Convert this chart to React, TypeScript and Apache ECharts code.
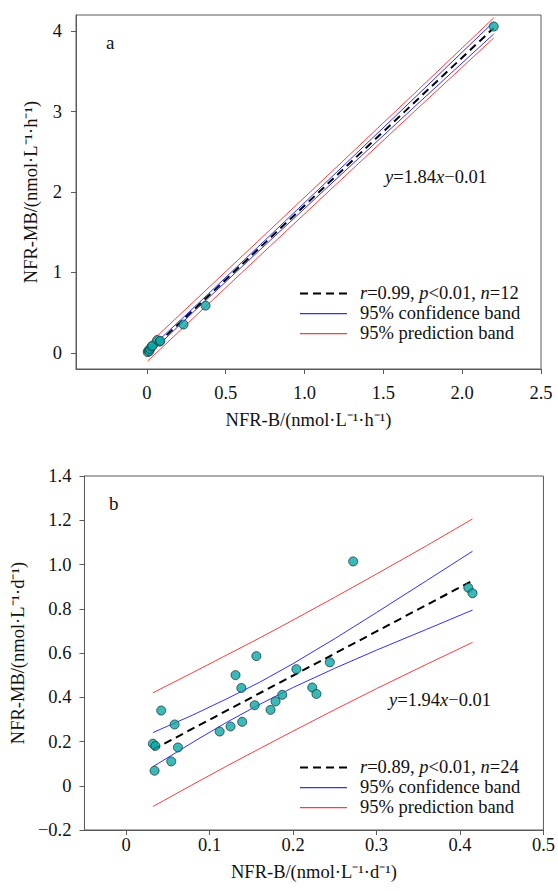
import React, { useEffect, useRef } from "react";
import * as echarts from "echarts";

// Panel a data (NFR-B vs NFR-MB, per hour)
const aX = [0.005, 0.01, 0.015, 0.02, 0.03, 0.035, 0.065, 0.08, 0.085, 0.232, 0.372, 2.2];
const aY = [0.01, 0.03, 0.02, 0.05, 0.08, 0.09, 0.16, 0.14, 0.15, 0.353, 0.588, 4.057];
const aFitX = [0.005, 2.2];
const aFitY = [0.0, 4.039];
const aBandX = [0.005, 0.3, 0.7, 1.2, 1.7, 2.2];
const aConfUp = [0.03, 0.568, 1.309, 2.239, 3.174, 4.114];
const aConfLo = [-0.03, 0.518, 1.249, 2.159, 3.064, 3.964];
const aPredUp = [0.1, 0.643, 1.38, 2.304, 3.231, 4.164];
const aPredLo = [-0.1, 0.443, 1.178, 2.094, 3.007, 3.914];
const aXTicks = [0, 0.5, 1.0, 1.5, 2.0, 2.5];
const aYTicks = [0, 1, 2, 3, 4];

// Panel b data (per day)
const bX = [0.032, 0.035, 0.034, 0.042, 0.058, 0.062, 0.054, 0.112, 0.125, 0.139, 0.131, 0.138,
  0.154, 0.156, 0.272, 0.204, 0.244, 0.223, 0.228, 0.187, 0.179, 0.173, 0.41, 0.415];
const bY = [0.19, 0.18, 0.068, 0.34, 0.277, 0.173, 0.11, 0.245, 0.268, 0.289, 0.5, 0.442,
  0.364, 0.586, 1.014, 0.527, 0.558, 0.444, 0.415, 0.411, 0.381, 0.343, 0.895, 0.87];
const bFitX = [0.032, 0.415];
const bFitY = [0.163, 0.927];
const bBandX = [0.032, 0.08, 0.12, 0.16, 0.2, 0.25, 0.3, 0.36, 0.415];
const bConfUp = [0.24, 0.32, 0.392, 0.468, 0.552, 0.665, 0.783, 0.927, 1.06];
const bConfLo = [0.086, 0.197, 0.286, 0.368, 0.444, 0.531, 0.613, 0.707, 0.794];
const bPredUp = [0.42, 0.512, 0.59, 0.668, 0.749, 0.852, 0.957, 1.085, 1.206];
const bPredLo = [-0.094, 0.006, 0.088, 0.168, 0.247, 0.344, 0.439, 0.549, 0.648];
const bXTicks = [0, 0.1, 0.2, 0.3, 0.4, 0.5];

const zip = (xs: number[], ys: number[]) => xs.map((x, i) => [x, ys[i]]);

const FONT = "'Liberation Serif', 'Times New Roman', serif";
const FS = 18.5;
const AXIS_COLOR = "#5a5a5a";
const TEXT_COLOR = "#111";
const RED = "#ff3b3b";
const BLUE = "#3030ff";

const fmt1 = (v: number) => {
  if (Math.abs(v) < 1e-9) return "0";
  if (v < 0) return "\u2212" + Math.abs(v).toFixed(1);
  return v.toFixed(1);
};

export default function App() {
  const ref = useRef<HTMLDivElement>(null);
  useEffect(() => {
    if (!ref.current) return;
    const chart = echarts.init(ref.current, undefined, { renderer: "svg" });

    const labelStyle = { fontSize: FS, color: TEXT_COLOR, fontFamily: FONT };
    const axisBase = {
      type: "value" as const,
      splitLine: { show: false },
      axisLine: { show: true, onZero: false, lineStyle: { color: AXIS_COLOR, width: 1 } },
      nameLocation: "middle" as const,
      nameTextStyle: { fontSize: FS, color: TEXT_COLOR, fontFamily: FONT },
    };

    const lineSeries = (name: string, data: number[][], color: string, idx: number, dashed = false) => ({
      name,
      type: "line",
      xAxisIndex: idx,
      yAxisIndex: idx,
      data,
      showSymbol: false,
      symbol: "none",
      smooth: false,
      lineStyle: dashed
        ? { color: "#000", width: 2, type: [8, 5] }
        : { color, width: 1 },
      z: dashed ? 4 : 3,
      silent: true,
    });

    const scatterSeries = (data: number[][], idx: number) => ({
      type: "scatter",
      xAxisIndex: idx,
      yAxisIndex: idx,
      data,
      symbol: "circle",
      symbolSize: 9,
      itemStyle: { color: "#0aa8a8", borderColor: "#1c3838", borderWidth: 1 },
      z: 6,
    });

    const rich = { i: { fontStyle: "italic", fontSize: FS, fontFamily: FONT, fill: TEXT_COLOR, color: TEXT_COLOR } };
    const legendRows = (x0: number, y0: number, txt: string) => {
      const rows: any[] = [];
      const solid = (y: number, fill: string) => ({
        type: "rect",
        shape: { x: x0, y: y, width: 47, height: 1.2 },
        style: { fill },
        z: 10,
      });
      const label = (y: number, t: string) => ({
        type: "text",
        x: x0 + 60,
        y,
        style: { text: t, rich, font: `${FS}px ${FONT}`, fill: TEXT_COLOR, verticalAlign: "middle", align: "left" },
        z: 10,
      });
      rows.push({
        type: "line",
        shape: { x1: x0, y1: y0 + 0.5, x2: x0 + 47, y2: y0 + 0.5 },
        style: { stroke: "#000", lineWidth: 2, lineDash: [8, 5] },
        z: 10,
      });
      rows.push(label(y0, txt));
      rows.push(solid(y0 + 20, BLUE));
      rows.push(label(y0 + 20, "95% confidence band"));
      rows.push(solid(y0 + 40, RED));
      rows.push(label(y0 + 40, "95% prediction band"));
      return rows;
    };

    chart.setOption({
      animation: false,
      backgroundColor: "#fff",
      grid: [
        { left: 76, top: 15, width: 465, height: 354, show: true, borderColor: AXIS_COLOR, borderWidth: 1, containLabel: false },
        { left: 81, top: 476, width: 465, height: 354, show: true, borderColor: AXIS_COLOR, borderWidth: 1, containLabel: false },
      ],
      xAxis: [
        {
          ...axisBase,
          gridIndex: 0,
          min: -0.45,
          max: 2.5,
          name: "NFR-B/(nmol·L\u207B\u00B9·h\u207B\u00B9)",
          nameGap: 41,
          axisTick: { show: true, inside: false, length: 5, customValues: aXTicks, lineStyle: { color: AXIS_COLOR } },
          axisLabel: { ...labelStyle, customValues: aXTicks, margin: 14, formatter: (v: number) => fmt1(v) },
        },
        {
          ...axisBase,
          gridIndex: 1,
          min: -0.05,
          max: 0.5,
          name: "NFR-B/(nmol·L\u207B\u00B9·d\u207B\u00B9)",
          nameGap: 32,
          axisTick: { show: true, inside: false, length: 5, customValues: bXTicks, lineStyle: { color: AXIS_COLOR } },
          axisLabel: { ...labelStyle, customValues: bXTicks, margin: 5, formatter: (v: number) => fmt1(v) },
        },
      ],
      yAxis: [
        {
          ...axisBase,
          gridIndex: 0,
          min: -0.2,
          max: 4.2,
          name: "NFR-MB/(nmol·L\u207B\u00B9·h\u207B\u00B9)",
          nameGap: 36,
          axisTick: { show: true, inside: false, length: 5, customValues: aYTicks, lineStyle: { color: AXIS_COLOR } },
          axisLabel: { ...labelStyle, customValues: aYTicks, margin: 14, formatter: (v: number) => String(Math.round(v)) },
        },
        {
          ...axisBase,
          gridIndex: 1,
          min: -0.2,
          max: 1.4,
          interval: 0.2,
          name: "NFR-MB/(nmol·L\u207B\u00B9·d\u207B\u00B9)",
          nameGap: 50,
          axisTick: { show: true, inside: false, length: 5, lineStyle: { color: AXIS_COLOR } },
          axisLabel: { ...labelStyle, margin: 13, formatter: (v: number) => fmt1(v) },
        },
      ],
      series: [
        lineSeries("a prediction upper", zip(aBandX, aPredUp), RED, 0),
        lineSeries("a prediction lower", zip(aBandX, aPredLo), RED, 0),
        lineSeries("a confidence upper", zip(aBandX, aConfUp), BLUE, 0),
        lineSeries("a confidence lower", zip(aBandX, aConfLo), BLUE, 0),
        lineSeries("a fit", zip(aFitX, aFitY), "#000", 0, true),
        scatterSeries(zip(aX, aY), 0),
        lineSeries("b prediction upper", zip(bBandX, bPredUp), RED, 1),
        lineSeries("b prediction lower", zip(bBandX, bPredLo), RED, 1),
        lineSeries("b confidence upper", zip(bBandX, bConfUp), BLUE, 1),
        lineSeries("b confidence lower", zip(bBandX, bConfLo), BLUE, 1),
        lineSeries("b fit", zip(bFitX, bFitY), "#000", 1, true),
        scatterSeries(zip(bX, bY), 1),
      ],
      graphic: [
        { type: "text", x: 106, y: 42, style: { text: "a", font: `19px ${FONT}`, fill: TEXT_COLOR, verticalAlign: "middle" } },
        { type: "text", x: 109, y: 503, style: { text: "b", font: `19px ${FONT}`, fill: TEXT_COLOR, verticalAlign: "middle" } },
        {
          type: "text", x: 385, y: 177,
          style: { text: "{i|y}=1.84{i|x}\u22120.01", rich, font: `${FS}px ${FONT}`, fill: TEXT_COLOR, verticalAlign: "middle" },
        },
        {
          type: "text", x: 389, y: 700,
          style: { text: "{i|y}=1.94{i|x}\u22120.01", rich, font: `${FS}px ${FONT}`, fill: TEXT_COLOR, verticalAlign: "middle" },
        },
        ...legendRows(300, 293, "{i|r}=0.99, {i|p}<0.01, {i|n}=12"),
        ...legendRows(300, 767, "{i|r}=0.89, {i|p}<0.01, {i|n}=24"),
      ],
    });
    return () => chart.dispose();
  }, []);

  return (
    <div
      ref={ref}
      style={{ position: "absolute", left: 0, top: 0, width: 558, height: 891, background: "#fff" }}
    />
  );
}
